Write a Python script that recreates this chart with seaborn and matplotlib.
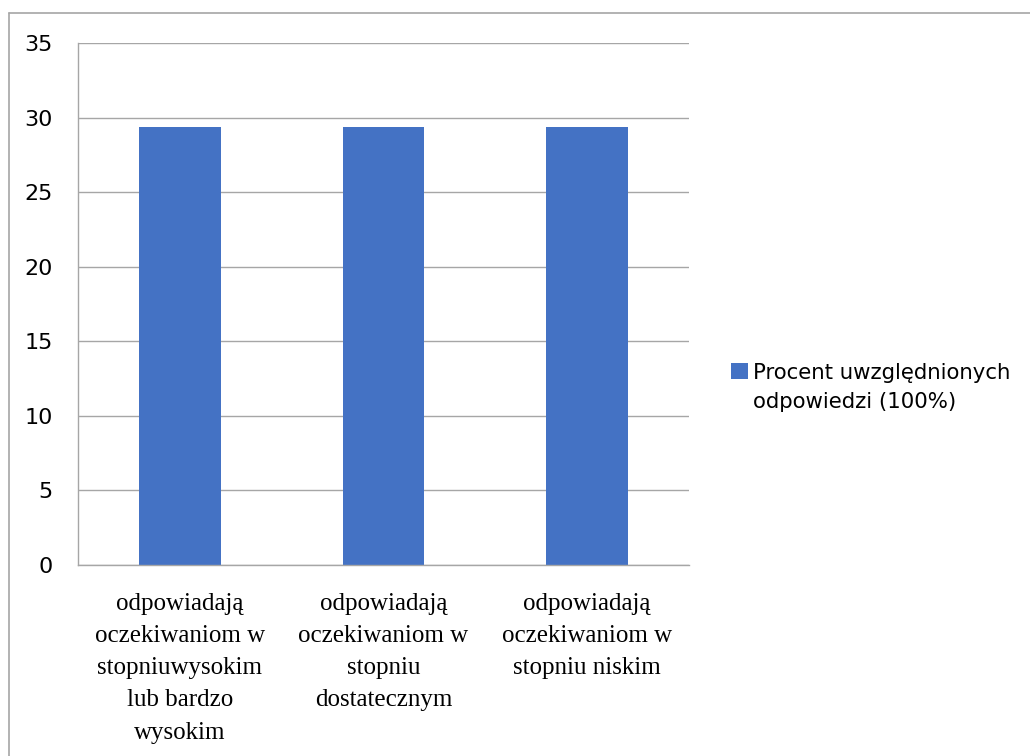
import pandas as pd
import matplotlib
matplotlib.use("Agg")
import matplotlib.pyplot as plt
from matplotlib.lines import Line2D
import seaborn as sns

# chart data
categories = [
    "odpowiadają\noczekiwaniom w\nstopniuwysokim\nlub bardzo\nwysokim",
    "odpowiadają\noczekiwaniom w\nstopniu\ndostatecznym",
    "odpowiadają\noczekiwaniom w\nstopniu niskim",
]
values = [29.4, 29.4, 29.4]
series_name = "Procent uwzględnionych\nodpowiedzi (100%)"
y_ticks = [0, 5, 10, 15, 20, 25, 30, 35]

df = pd.DataFrame({"kategoria": categories, "wartosc": values, "seria": series_name})

sns.set_style("white")
plt.rcParams["font.family"] = ["DejaVu Sans"]
plt.rcParams["text.color"] = "black"
plt.rcParams["xtick.labelcolor"] = "black"
plt.rcParams["ytick.labelcolor"] = "black"

grid_col = "#a6a6a6"
bar_col = "#4472C4"

fig = plt.figure(figsize=(10.30, 7.56), dpi=100)
ax = fig.add_axes([78 / 1030, 1 - 565 / 756, (689 - 78) / 1030, (565 - 43) / 756])

sns.barplot(data=df, x="kategoria", y="wartosc", hue="seria", palette=[bar_col],
            width=0.4, ax=ax, saturation=1, linewidth=0, edgecolor="none")

ax.set_ylim(0, 35)
ax.set_xlim(-0.5, len(categories) - 0.5)
ax.set_yticks(y_ticks)
ax.set_xlabel("")
ax.set_ylabel("")
ax.grid(axis="y", color=grid_col, linewidth=1.0)
ax.set_axisbelow(True)

for s in ["top", "right"]:
    ax.spines[s].set_visible(False)
for s in ["left", "bottom"]:
    ax.spines[s].set_color(grid_col)
    ax.spines[s].set_linewidth(1.0)

ax.tick_params(axis="y", length=6, width=1.0, color=grid_col, pad=12, labelsize=16)
ax.set_xticks([i - 0.5 for i in range(len(categories) + 1)], minor=True)
ax.tick_params(axis="x", which="minor", length=6, width=1.0, color=grid_col)
ax.tick_params(axis="x", which="major", length=0, pad=20)
for lab in ax.get_xticklabels():
    lab.set_fontfamily("Liberation Serif")
    lab.set_fontsize(18)
    lab.set_linespacing(1.6)

# legend to the right, square next to the first line
handles, labels = ax.get_legend_handles_labels()
ax.get_legend().remove()
leg = fig.legend(handles, labels, loc="upper left", bbox_to_anchor=(731 / 1030, 1 - 363 / 756),
                 frameon=False, fontsize=15.3, borderpad=0, borderaxespad=0,
                 handlelength=0.78, handleheight=0.78, handletextpad=0.25)
for t in leg.get_texts():
    t.set_linespacing(1.55)
for h in leg.legend_handles:
    h.set_y(h.get_y() + 12)

# outer border (left and top edges visible)
fig.add_artist(Line2D([9 / 1030, 9 / 1030], [0, 1 - 13 / 756], transform=fig.transFigure,
                      color=grid_col, linewidth=1.2))
fig.add_artist(Line2D([9 / 1030, 1], [1 - 13 / 756, 1 - 13 / 756], transform=fig.transFigure,
                      color=grid_col, linewidth=1.2))

fig.savefig("out.png", dpi=100)
